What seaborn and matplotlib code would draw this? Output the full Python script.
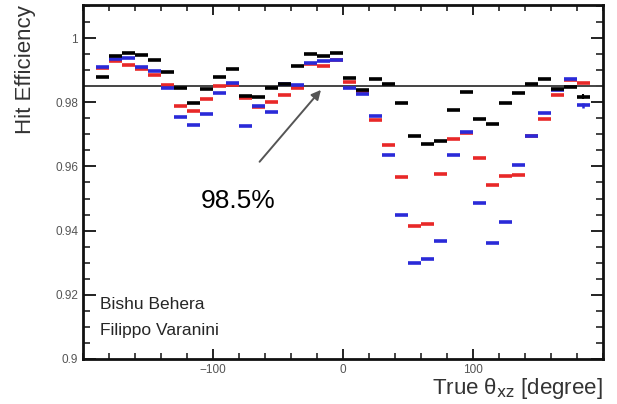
import numpy as np
import pandas as pd
import seaborn as sns
import matplotlib
matplotlib.use("Agg")
import matplotlib.pyplot as plt
from matplotlib.ticker import MultipleLocator

# Bin centres in true theta_xz (degree)
theta = list(range(-185, 190, 10))

eff_black = [0.9879, 0.9944, 0.9954, 0.9947, 0.9931, 0.9895, 0.9843, 0.9798, 0.9840, 0.9879,
             0.9905, 0.9819, 0.9815, 0.9843, 0.9856, 0.9912, 0.9950, 0.9944, 0.9954,
             0.9876, 0.9838, 0.9872, 0.9858, 0.9798, 0.9696, 0.9671, 0.9678, 0.9777, 0.9832,
             0.9749, 0.9731, 0.9799, 0.9829, 0.9856, 0.9874, 0.9840, 0.9846, 0.9817]

eff_red = [0.9908, 0.9930, 0.9916, 0.9905, 0.9884, 0.9853, 0.9788, 0.9772, 0.9810, 0.9850,
           0.9855, 0.9814, 0.9785, 0.9801, 0.9822, 0.9843, 0.9920, 0.9912, 0.9932,
           0.9864, 0.9832, 0.9745, 0.9666, 0.9567, 0.9415, 0.9421, 0.9577, 0.9685, 0.9703,
           0.9627, 0.9541, 0.9570, 0.9574, 0.9694, 0.9748, 0.9824, 0.9870, 0.9861]

eff_blue = [0.9910, 0.9935, 0.9937, 0.9910, 0.9897, 0.9843, 0.9754, 0.9730, 0.9762, 0.9829,
            0.9860, 0.9725, 0.9788, 0.9770, 0.9858, 0.9853, 0.9923, 0.9929, 0.9933,
            0.9845, 0.9827, 0.9756, 0.9637, 0.9450, 0.9299, 0.9313, 0.9369, 0.9635, 0.9706,
            0.9485, 0.9362, 0.9426, 0.9605, 0.9696, 0.9767, 0.9838, 0.9873, 0.9790]

x_ticks = [-100, 0, 100]
y_ticks = [0.9, 0.92, 0.94, 0.96, 0.98, 1.0]
y_tick_labels = ["0.9", "0.92", "0.94", "0.96", "0.98", "1"]

reference_eff = 0.985

def main():
    sns.set_style("ticks")
    plt.rcParams['font.family'] = ['Liberation Sans', 'DejaVu Sans']

    frames = []
    for name, vals in [("red", eff_red), ("blue", eff_blue), ("black", eff_black)]:
        frames.append(pd.DataFrame({"theta": theta, "eff": vals, "series": name}))
    data = pd.concat(frames, ignore_index=True)

    fig = plt.figure(figsize=(6.17, 4.04), dpi=100)
    ax = fig.add_axes([0.1345, 0.1114, 0.8425, 0.8762])

    palette = {"red": "#e82828", "blue": "#2a2ad8", "black": "#000000"}
    sns.scatterplot(data=data, x="theta", y="eff", hue="series", palette=palette,
                    marker="_", s=85, linewidth=2.6, legend=False, ax=ax, zorder=3)

    # small error bars on the last bin
    ax.errorbar(theta[-1], eff_black[-1], yerr=0.0008, color="black", lw=1.5, zorder=4)
    ax.errorbar(theta[-1], eff_blue[-1], yerr=0.0009, color="#2a2ad8", lw=1.8, zorder=4)

    ax.axhline(reference_eff, color="#444444", lw=1.4, zorder=2)

    ax.set_xlim(-200, 200)
    ax.set_ylim(0.9, 1.0103)
    ax.set_xticks(x_ticks)
    ax.xaxis.set_minor_locator(MultipleLocator(20))
    ax.set_yticks(y_ticks)
    ax.set_yticklabels(y_tick_labels)
    ax.yaxis.set_minor_locator(MultipleLocator(0.005))

    ax.tick_params(axis="both", which="both", direction="in", top=True, right=True,
                   labelsize=8.5, labelcolor="#555555", color="#111111")
    ax.tick_params(axis="y", which="major", length=9, width=1.3)
    ax.tick_params(axis="y", which="minor", length=5, width=1.1)
    ax.tick_params(axis="x", which="major", length=7, width=1.3)
    ax.tick_params(axis="x", which="minor", length=4, width=1.1)
    for sp in ax.spines.values():
        sp.set_linewidth(2.0)
        sp.set_color("#111111")

    ax.set_xlabel(r"True θ$_{\mathrm{xz}}$ [degree]", fontsize=16, color="#333333",
                  loc="right", labelpad=0)
    ax.set_ylabel("Hit Efficiency", fontsize=16, color="#333333", loc="top", labelpad=14)

    ax.annotate("", xy=(-15.5, 0.9845), xytext=(-65.5, 0.9608),
                arrowprops=dict(arrowstyle="-|>", color="#555555", lw=1.4,
                                mutation_scale=14))
    ax.text(-81, 0.9492, "98.5%", fontsize=19, ha="center", va="center", color="black")

    ax.text(-187, 0.917, "Bishu Behera", fontsize=12.5, ha="left", va="center")
    ax.text(-187, 0.9088, "Filippo Varanini", fontsize=12.5, ha="left", va="center")

    fig.savefig("out.png", dpi=100)


if __name__ == "__main__":
    main()
